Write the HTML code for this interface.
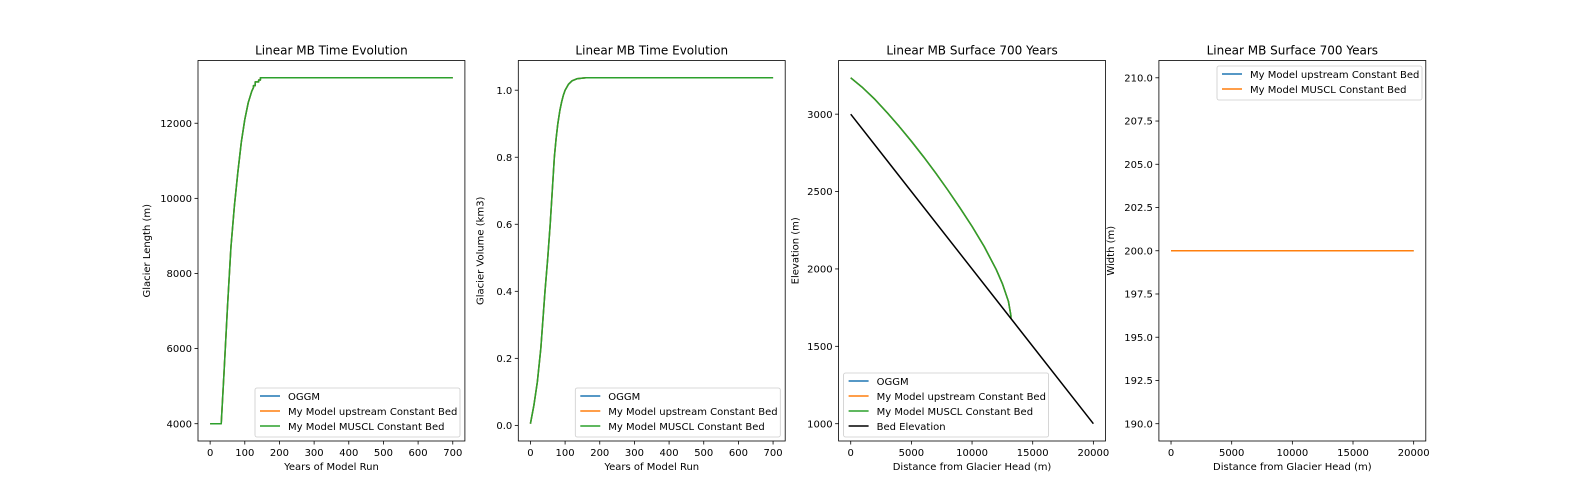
<!DOCTYPE html>
<html><head><meta charset="utf-8"><style>
body{margin:0;background:#fff}
svg{display:block;font-family:"DejaVu Sans","Liberation Sans",sans-serif}
</style></head><body>
<svg id="fig" width="1584" height="504" xmlns="http://www.w3.org/2000/svg"></svg>
<script>
// ---- data ----
const lenYears = [0,32,40,50,60,70,80,90,100,110,120,125,125,130,130,135,135,140,140,145,145,700];
const lenOGGM  = [4000,4000,5350,7100,8700,9800,10700,11500,12100,12550,12850,12950,13000,13000,13100,13100,13100,13100,13150,13150,13210,13210];
const volYears = [0,10,20,30,42,50,57,63,69,74,79,85,90,95,100,110,120,134,160,700];
const volOGGM  = [0.005,0.06,0.13,0.23,0.4,0.5,0.6,0.7,0.8,0.855,0.9,0.94,0.965,0.985,1.0,1.018,1.028,1.034,1.037,1.037];
const surfDist = [0,1000,2000,3000,4000,5000,6000,7000,8000,9000,10000,11000,12000,12500,13000,13200,13200];
const surfElev = [3235,3170,3095,3010,2920,2825,2725,2620,2510,2395,2275,2145,1995,1905,1790,1700,1680];
const bedDist  = [0,20000];
const bedElev  = [3000,1000];
const widthDist = [0,20000];
const widthVal  = [200,200];
const xticks1 = [0,100,200,300,400,500,600,700];
const yticks1 = [4000,6000,8000,10000,12000];
const yticks2 = [0.0,0.2,0.4,0.6,0.8,1.0];
const xticks3 = [0,5000,10000,15000,20000];
const yticks3 = [1000,1500,2000,2500,3000];
const yticks4 = [190.0,192.5,195.0,197.5,200.0,202.5,205.0,207.5,210.0];
const C = {blue:'#1f77b4',orange:'#ff7f0e',green:'#2ca02c',black:'#000'};

const NS='http://www.w3.org/2000/svg';
const svg=document.getElementById('fig');
function mk(tag,attrs,parent){const e=document.createElementNS(NS,tag);for(const k in attrs)e.setAttribute(k,attrs[k]);(parent||svg).appendChild(e);return e;}
const T=60.5,B=441;
function lin(d0,d1,p0,p1){return v=>p0+(v-d0)/(d1-d0)*(p1-p0);}
function panel(o){
  const g=mk('g',{});
  
  
  const sx=lin(o.xr[0],o.xr[1],o.L,o.R), sy=lin(o.yr[0],o.yr[1],B,T);
  o.series.forEach(s=>{
    const p=mk('polyline',{points:s.x.map((v,i)=>sx(v).toFixed(2)+','+sy(s.y[i]).toFixed(2)).join(' '),fill:'none',stroke:s.c,'stroke-width':1.5,'stroke-linejoin':'round'},g);
    
    
  });
  const f=mk('rect',{x:o.L,y:T,width:o.R-o.L,height:B-T,fill:'none',stroke:'#000','stroke-width':0.8},g);
  
  
  o.xt.forEach(v=>{const x=sx(v);mk('line',{x1:x,x2:x,y1:B,y2:B+3.5,stroke:'#000','stroke-width':0.8},g);
    const t=mk('text',{x:x,y:B+15,'font-size':10,'text-anchor':'middle'},g);t.textContent=o.xf?o.xf(v):v;
    
    });
  o.yt.forEach(v=>{const y=sy(v);mk('line',{x1:o.L-3.5,x2:o.L,y1:y,y2:y,stroke:'#000','stroke-width':0.8},g);
    const t=mk('text',{x:o.L-6,y:y+3.6,'font-size':10,'text-anchor':'end'},g);t.textContent=o.yf?o.yf(v):v;
    
    });
  const ti=mk('text',{x:(o.L+o.R)/2,y:T-6,'font-size':12,'text-anchor':'middle'},g);ti.textContent=o.title;
  
  
  const xl=mk('text',{x:(o.L+o.R)/2,y:B+29,'font-size':10,'text-anchor':'middle'},g);xl.textContent=o.xl;
  
  
  const yx=o.L-o.ylo, yy=(T+B)/2;
  const yl=mk('text',{x:yx,y:yy,'font-size':10,'text-anchor':'middle',transform:`rotate(-90 ${yx} ${yy})`},g);yl.textContent=o.yl;
  
  
  const lg=o.leg, lh=15;
  const lgG=mk('g',{},g);
  
  
  mk('rect',{x:lg.x,y:lg.y,width:lg.w,height:lg.items.length*lh+4,rx:2,fill:'#fff','fill-opacity':0.8,stroke:'#ccc','stroke-width':0.8},lgG);
  lg.items.forEach((it,i)=>{const y=lg.y+11+i*lh;
    mk('line',{x1:lg.x+5,x2:lg.x+25,y1:y-3,y2:y-3,stroke:it[1],'stroke-width':1.5},lgG);
    const t=mk('text',{x:lg.x+33,y:y+1,'font-size':10},lgG);t.textContent=it[0];
    
    });
}
const W=266.9,G=53.4,L0=198;
const Ls=[0,1,2,3].map(i=>L0+i*(W+G));
const m=(a,b)=>{const d=(b-a)*0.05;return [a-d,b+d];};
const legLen=[['OGGM',C.blue],['My Model upstream Constant Bed',C.orange],['My Model MUSCL Constant Bed',C.green]];
panel({name:'length-panel',L:Ls[0],R:Ls[0]+W,xr:m(0,700),yr:m(4000,13210),xt:xticks1,yt:yticks1,
  title:'Linear MB Time Evolution',xl:'Years of Model Run',yl:'Glacier Length (m)',ylo:48,
  series:[{x:lenYears,y:lenOGGM,c:C.blue,n:'oggm-length'},{x:lenYears,y:lenOGGM,c:C.orange,n:'upstream-length'},{x:lenYears,y:lenOGGM,c:C.green,n:'muscl-length'}],
  leg:{x:Ls[0]+57,y:388,w:205,items:legLen}});
panel({name:'volume-panel',L:Ls[1],R:Ls[1]+W,xr:m(0,700),yr:m(0.005,1.037),xt:xticks1,yt:yticks2,yf:v=>v.toFixed(1),
  title:'Linear MB Time Evolution',xl:'Years of Model Run',yl:'Glacier Volume (km3)',ylo:35,
  series:[{x:volYears,y:volOGGM,c:C.blue,n:'oggm-volume'},{x:volYears,y:volOGGM,c:C.orange,n:'upstream-volume'},{x:volYears,y:volOGGM,c:C.green,n:'muscl-volume'}],
  leg:{x:Ls[1]+57,y:388,w:205,items:legLen}});
panel({name:'surface-panel',L:Ls[2],R:Ls[2]+W,xr:m(0,20000),yr:m(1000,3235),xt:xticks3,yt:yticks3,
  title:'Linear MB Surface 700 Years',xl:'Distance from Glacier Head (m)',yl:'Elevation (m)',ylo:40,
  series:[{x:surfDist,y:surfElev,c:C.blue,n:'oggm-surface'},{x:surfDist,y:surfElev,c:C.orange,n:'upstream-surface'},{x:surfDist,y:surfElev,c:C.green,n:'muscl-surface'},{x:bedDist,y:bedElev,c:C.black,n:'bed-elevation'}],
  leg:{x:Ls[2]+5,y:373,w:205,items:legLen.concat([['Bed Elevation',C.black]])}});
panel({name:'width-panel',L:Ls[3],R:Ls[3]+W,xr:m(0,20000),yr:[189,211],xt:xticks3,yt:yticks4,yf:v=>v.toFixed(1),
  title:'Linear MB Surface 700 Years',xl:'Distance from Glacier Head (m)',yl:'Width (m)',ylo:45,
  series:[{x:widthDist,y:widthVal,c:C.blue,n:'upstream-width'},{x:widthDist,y:widthVal,c:C.orange,n:'muscl-width'}],
  leg:{x:1217,y:66,w:205,items:[['My Model upstream Constant Bed',C.blue],['My Model MUSCL Constant Bed',C.orange]]}});
</script>
</body></html>
